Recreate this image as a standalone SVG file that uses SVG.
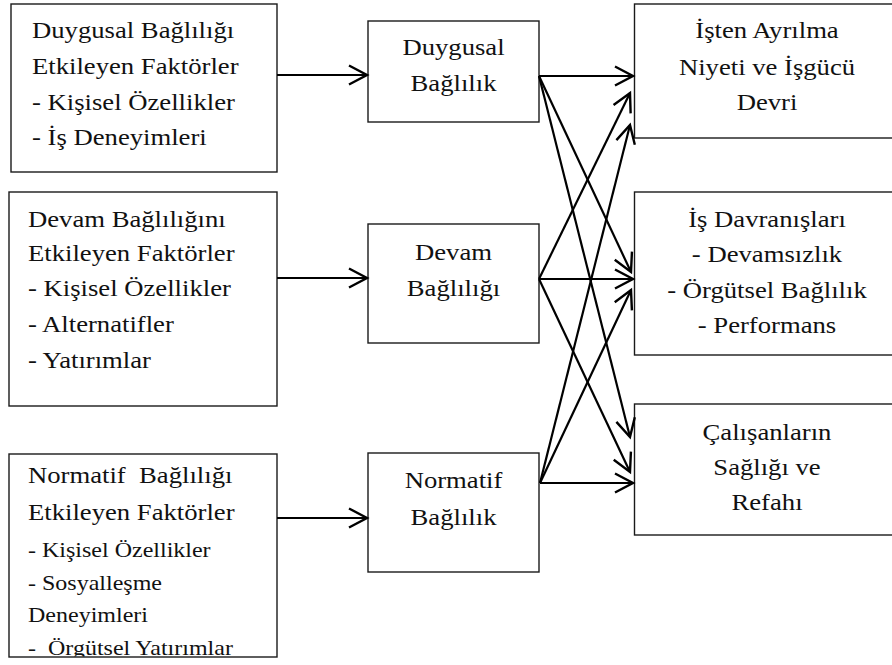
<svg xmlns="http://www.w3.org/2000/svg" width="892" height="665" viewBox="0 0 892 665">
  <style>
    .box { fill: #ffffff; stroke: #1a1a1a; stroke-width: 1.4; }
    .t { font-family: "Liberation Serif", "Times New Roman", serif; font-size: 23px; fill: #111111; white-space: pre; }
    .s { font-size: 20.7px; }
    .c { text-anchor: middle; }
    .link { fill: none; stroke: #000000; stroke-width: 2.2; marker-end: url(#head); }
  </style>
  <defs>
    <marker id="head" markerUnits="userSpaceOnUse" markerWidth="24" markerHeight="24" viewBox="-20 -12 24 24" refX="0" refY="0" orient="auto">
      <path d="M-18,-9.5 L0,0 L-18,9.5" fill="none" stroke="#000000" stroke-width="2.4" stroke-linejoin="miter"/>
    </marker>
    <clipPath id="clipNormF">
      <rect x="9" y="454" width="268" height="202.5"/>
    </clipPath>
  </defs>

  <!-- factor boxes (left column) -->
  <g id="duygusal-faktorler">
    <rect class="box" x="11" y="4" width="266" height="168"/>
    <text class="t" transform="translate(32 38) scale(1.16 1)">Duygusal Bağlılığı</text>
    <text class="t" transform="translate(32 74) scale(1.16 1)">Etkileyen Faktörler</text>
    <text class="t" transform="translate(32 110) scale(1.16 1)">- Kişisel Özellikler</text>
    <text class="t" transform="translate(32 145) scale(1.16 1)">- İş Deneyimleri</text>
  </g>

  <g id="devam-faktorler">
    <rect class="box" x="9" y="192" width="268" height="214"/>
    <text class="t" transform="translate(28 227) scale(1.16 1)">Devam Bağlılığını</text>
    <text class="t" transform="translate(28 261) scale(1.16 1)">Etkileyen Faktörler</text>
    <text class="t" transform="translate(28 296) scale(1.16 1)">- Kişisel Özellikler</text>
    <text class="t" transform="translate(28 332) scale(1.16 1)">- Alternatifler</text>
    <text class="t" transform="translate(28 368) scale(1.16 1)">- Yatırımlar</text>
  </g>

  <g id="normatif-faktorler">
    <rect class="box" x="9" y="454" width="268" height="203"/>
    <g clip-path="url(#clipNormF)">
      <text class="t" transform="translate(28 483) scale(1.16 1)">Normatif  Bağlılığı</text>
      <text class="t" transform="translate(28 520) scale(1.16 1)">Etkileyen Faktörler</text>
      <text class="t s" transform="translate(28 557) scale(1.16 1)">- Kişisel Özellikler</text>
      <text class="t s" transform="translate(28 590) scale(1.16 1)">- Sosyalleşme</text>
      <text class="t s" transform="translate(28 622) scale(1.16 1)">Deneyimleri</text>
      <text class="t s" transform="translate(28 655) scale(1.16 1)">-  Örgütsel Yatırımlar</text>
    </g>
  </g>

  <!-- commitment types (middle column) -->
  <g id="duygusal-baglilik">
    <rect class="box" x="368" y="21" width="171" height="101"/>
    <text class="t c" transform="translate(453.5 55) scale(1.16 1)">Duygusal</text>
    <text class="t c" transform="translate(453.5 91) scale(1.16 1)">Bağlılık</text>
  </g>

  <g id="devam-baglilik">
    <rect class="box" x="368" y="224" width="171" height="119"/>
    <text class="t c" transform="translate(453.5 260) scale(1.16 1)">Devam</text>
    <text class="t c" transform="translate(453.5 296) scale(1.16 1)">Bağlılığı</text>
  </g>

  <g id="normatif-baglilik">
    <rect class="box" x="368" y="453" width="171" height="119"/>
    <text class="t c" transform="translate(453.5 488) scale(1.16 1)">Normatif</text>
    <text class="t c" transform="translate(453.5 525) scale(1.16 1)">Bağlılık</text>
  </g>

  <!-- outcomes (right column, running past the right edge) -->
  <g id="isten-ayrilma">
    <rect class="box" x="634.5" y="4" width="270" height="134"/>
    <text class="t c" transform="translate(767 38) scale(1.16 1)">İşten Ayrılma</text>
    <text class="t c" transform="translate(767 75) scale(1.16 1)">Niyeti ve İşgücü</text>
    <text class="t c" transform="translate(767 110) scale(1.16 1)">Devri</text>
  </g>

  <g id="is-davranislari">
    <rect class="box" x="634.5" y="192" width="270" height="163"/>
    <text class="t c" transform="translate(767 227) scale(1.16 1)">İş Davranışları</text>
    <text class="t c" transform="translate(767 262) scale(1.16 1)">- Devamsızlık</text>
    <text class="t c" transform="translate(767 298) scale(1.16 1)">- Örgütsel Bağlılık</text>
    <text class="t c" transform="translate(767 333) scale(1.16 1)">- Performans</text>
  </g>

  <g id="calisan-sagligi">
    <rect class="box" x="634.5" y="404" width="270" height="131"/>
    <text class="t c" transform="translate(767 440) scale(1.16 1)">Çalışanların</text>
    <text class="t c" transform="translate(767 475) scale(1.16 1)">Sağlığı ve</text>
    <text class="t c" transform="translate(767 510) scale(1.16 1)">Refahı</text>
  </g>

  <!-- connectors -->
  <g id="connectors">
    <line class="link" x1="277" y1="75" x2="367" y2="75"/>
    <line class="link" x1="277" y1="278" x2="367" y2="278"/>
    <line class="link" x1="277" y1="518" x2="367" y2="518"/>

    <line class="link" x1="539" y1="76" x2="633" y2="76"/>
    <line class="link" x1="539" y1="76" x2="631" y2="272"/>
    <line class="link" x1="539" y1="76" x2="630" y2="437"/>

    <line class="link" x1="539" y1="279" x2="630" y2="93"/>
    <line class="link" x1="539" y1="279" x2="633" y2="279"/>
    <line class="link" x1="539" y1="279" x2="630" y2="472"/>

    <line class="link" x1="540" y1="483" x2="630" y2="125"/>
    <line class="link" x1="540" y1="483" x2="631" y2="290"/>
    <line class="link" x1="540" y1="483" x2="633" y2="483"/>
  </g>
</svg>
